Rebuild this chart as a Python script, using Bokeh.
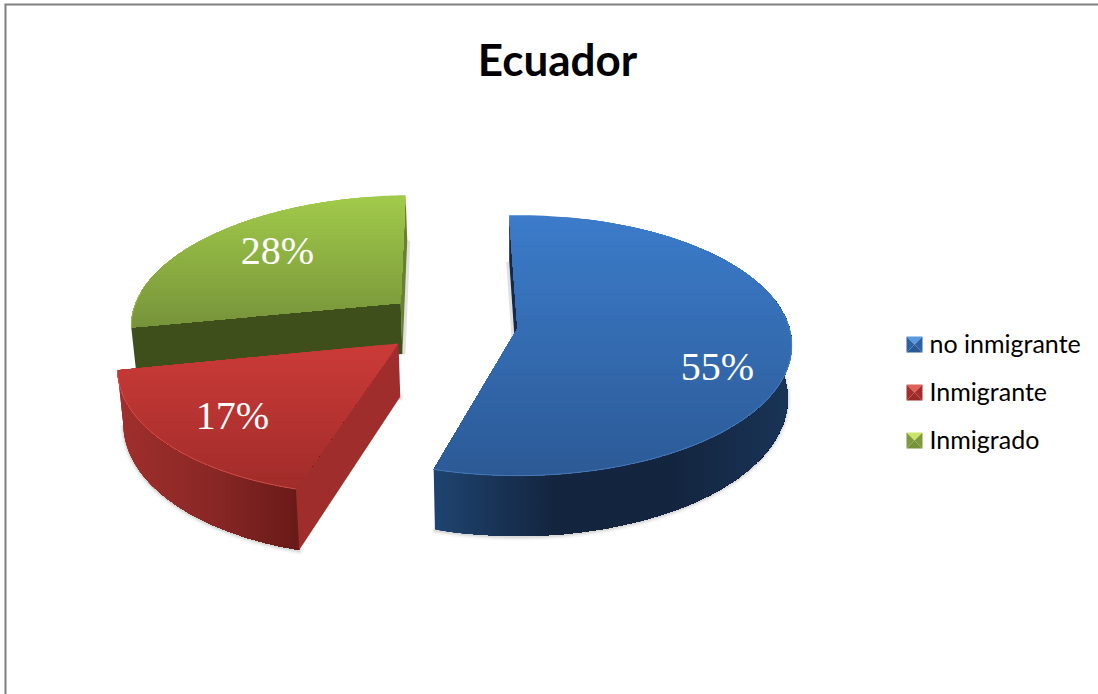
import numpy as np
from bokeh.plotting import figure
from bokeh.models import Range1d
from bokeh.core.properties import value
from bokeh.embed import file_html
from bokeh.resources import INLINE

# ---- data ----
title = "Ecuador"
categories = ["no inmigrante", "Inmigrante", "Inmigrado"]
shares = [54.9, 17.49, 27.61]
labels = ["55%", "17%", "28%"]

# ---- layout / style ----
W, H = 1098, 694
CX, CY, RX, RY, K, DEPTH, BOT = 517.0, 328.0, 272.0, 128.0, 0.13, 52.5, 0.985
START = -2.0
EXPLODE = [(0.0, 0.0), (-0.431, 0.115), (-0.441, -0.205)]
LABEL_POS = [(717, 366), (232, 415), (277, 250)]
TOP_GRAD = [("#3c7cca", "#2c5a96"), ("#cb3b38", "#a02c2a"), ("#a2ca4a", "#76933a")]
WALL_GRAD = [["#1f4470", "#14253f", "#14253f", "#1a3557"], ["#a02f2c", "#8a2826", "#681a18"], None]
CUT = [None, "#9e2d2b", "#3f4f1c"]
LEG_COL = [("#5a9ae0", "#2f62a2", "#2a5a96"),
           ("#e0605a", "#a52e2c", "#9a2a28"),
           ("#cde46a", "#7d9a3c", "#76933a")]


def hex2rgb(c):
    return np.array([int(c[i:i + 2], 16) for i in (1, 3, 5)], float)


def lerp(stops, t):
    t = min(max(t, 0.0), 1.0) * (len(stops) - 1)
    i = min(int(t), len(stops) - 2)
    c = hex2rgb(stops[i]) * (1 - (t - i)) + hex2rgb(stops[i + 1]) * (t - i)
    return "#%02x%02x%02x" % tuple(int(round(x)) for x in c)


def proj(u, v):
    w = 1 / (1 - K * v)
    return CX + RX * u * w, CY + RY * v * w, w


def low(p):
    x, y, w = p
    return CX + (x - CX) * BOT, y + DEPTH * w


def clip(pts, axis, val):
    out = []
    n = len(pts)
    for i in range(n):
        a, b = pts[i], pts[(i + 1) % n]
        ia, ib = a[axis] >= val, b[axis] >= val
        if ia:
            out.append(a)
        if ia != ib:
            t = (val - a[axis]) / (b[axis] - a[axis])
            out.append((a[0] + t * (b[0] - a[0]), a[1] + t * (b[1] - a[1])))
    return out


xs, ys, cols, alphas = [], [], [], []


def add(pts, col, alpha=1.0):
    if len(pts) >= 3:
        xs.append([q[0] for q in pts])
        ys.append([q[1] for q in pts])
        cols.append(col)
        alphas.append(alpha)


def gradient(pts, axis, stops, step=2.0):
    vals = [q[axis] for q in pts]
    lo, hi = min(vals), max(vals)
    v = lo
    while v < hi:
        add(clip(pts, axis, v) if v > lo else pts, lerp(stops, (v - lo) / (hi - lo)))
        v += step


total = sum(shares)
angles = np.cumsum([0] + [s * 360.0 / total for s in shares]) + START
geo = []
for i in range(3):
    a0, a1 = np.radians(angles[i]), np.radians(angles[i + 1])
    du, dv = EXPLODE[i]
    th = np.linspace(a0, a1, 120)
    arc = [proj(du + np.sin(t), dv - np.cos(t)) for t in th]
    apex = proj(du, dv)
    geo.append((th, arc, apex))

sx, sy, sw, sa = [], [], [], []


def shadow(points):
    for grow, al in ((7, 0.05), (4, 0.07), (2, 0.10)):
        sx.append([q[0] for q in points])
        sy.append([q[1] + 1 for q in points])
        sw.append(grow)
        sa.append(al)


for i in range(2):
    th, arc, apex = geo[i]
    front = [q for q, t in zip(arc, th) if np.cos(t) < 0.25]
    shadow([low(q) for q in front] + ([low(apex)] if i == 1 else []))

p = figure(width=W, height=H, output_backend="svg", toolbar_location=None,
           x_range=Range1d(0, W), y_range=Range1d(H, 0),
           min_border=0, outline_line_color=None,
           styles={"position": "absolute", "left": "0px", "top": "0px"})
p.axis.visible = False
p.grid.visible = False
p.background_fill_color = "#ffffff"

# shadows under the slices
for a, b, c, d in zip(sx, sy, sw, sa):
    p.line(a, b, line_color="#555555", line_width=c, line_alpha=d, line_cap="round")
# small shadows beside the back faces
for i in (2, 0):
    th, arc, apex = geo[i]
    end = arc[-1] if i == 2 else arc[0]
    a, b = low(end), low(apex)
    off = 1.5 if i == 2 else -1.5
    p.line([a[0] + off, b[0] + off], [a[1], b[1]],
           line_color="#555555", line_width=3, line_alpha=0.18)

# green (behind), then red, then blue
th, arc, apex = geo[2]
end, first = arc[-1], arc[0]
add([end[:2], apex[:2], low(apex), low(end)], "#64822f")
add([first[:2], apex[:2], low(apex), low(first)], CUT[2])
gradient([apex[:2]] + [q[:2] for q in arc], 1, TOP_GRAD[2])

th, arc, apex = geo[1]
wall = [q[:2] for q in arc] + [low(q) for q in arc[::-1]]
gradient(wall[::-1], 0, WALL_GRAD[1])
add([arc[0][:2], apex[:2], low(apex), low(arc[0])], CUT[1])
gradient([apex[:2]] + [q[:2] for q in arc], 1, TOP_GRAD[1])

th, arc, apex = geo[0]
add([arc[0][:2], apex[:2], low(apex), low(arc[0])], "#16294a")
front = [q for q, t in zip(arc, th) if np.cos(t) < 0.25]
wall = [q[:2] for q in front] + [low(q) for q in front[::-1]]
gradient(wall, 0, WALL_GRAD[0])
gradient([apex[:2]] + [q[:2] for q in arc], 1, TOP_GRAD[0])

p.patches(xs, ys, fill_color=cols, fill_alpha=alphas, line_color=None)

# bevel highlights along the outer rim
RIM = ["#5f93d4", "#e8706a", "#c2dc78"]
for i in range(3):
    th, arc, apex = geo[i]
    fr = [q for q, t in zip(arc, th) if np.cos(t) < 0.1] or arc
    p.line([q[0] for q in fr], [q[1] for q in fr], line_color=RIM[i], line_width=1.0, line_alpha=0.55)

# data labels
p.text([q[0] for q in LABEL_POS], [q[1] for q in LABEL_POS], text=labels,
       text_color="#ffffff", text_font=value("Liberation Serif"), text_font_size="40px",
       text_align="center", text_baseline="middle")

# title
p.text([557], [58], text=[title], text_color="#000000", text_font=value("Lato"),
       text_font_style="bold", text_font_size="44px", text_align="center", text_baseline="middle")

# legend
LEG_X, LEG_Y, LEG_DY, LEG_H = 914, 344, 48, 8
for i, name in enumerate(categories):
    yc = LEG_Y + i * LEG_DY
    l, r, t, b = LEG_X - LEG_H, LEG_X + LEG_H, yc - LEG_H, yc + LEG_H
    c = LEG_COL[i]
    p.patches([[l, r, LEG_X], [l, LEG_X, l], [r, LEG_X, r], [l, r, LEG_X]],
              [[t, t, yc], [t, yc, b], [t, yc, b], [b, b, yc]],
              fill_color=[c[0], c[1], c[1], c[2]], line_color=None)
    p.text([929], [yc - 2], text=[name], text_color="#000000", text_font=value("Lato"),
           text_font_size="25px", text_align="left", text_baseline="middle")

# frame of the embedded chart
p.line([5, 5], [4, H], line_color="#808080", line_width=2)
p.line([4, W], [4, 4], line_color="#808080", line_width=2)

open("out.html", "w").write(file_html(p, INLINE))
